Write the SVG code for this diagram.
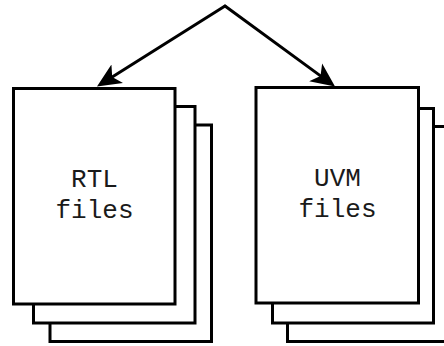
<svg xmlns="http://www.w3.org/2000/svg" width="444" height="346" viewBox="0 0 444 346">
<style>
.page{fill:#ffffff;stroke:#000000;stroke-width:3}
.lbl{font-family:"Courier New","Liberation Mono",monospace;font-size:26px;fill:#1a1a1a;text-anchor:middle}
.conn{fill:none;stroke:#000000;stroke-width:3;stroke-linecap:round}
</style>
<defs>
<marker id="arr" markerUnits="userSpaceOnUse" markerWidth="26" markerHeight="24" viewBox="0 0 26 24" refX="6" refY="12" orient="auto">
<path d="M24,12 L0,1 L6,12 L0,23 Z" fill="#000000"/>
</marker>
</defs>
<rect width="444" height="346" fill="#ffffff"/>
<g id="connectors">
<path class="conn" d="M225,6 L112.2,76.9" marker-end="url(#arr)"/>
<path class="conn" d="M225,6 L320.5,75.9" marker-end="url(#arr)"/>
</g>
<g id="rtl-files">
<rect class="page" x="50" y="125" width="161.5" height="216.5"/>
<rect class="page" x="33.5" y="106.5" width="161.5" height="216.5"/>
<rect class="page" x="13.5" y="88.5" width="161.5" height="215.5"/>
<text class="lbl" x="94.5" y="187">RTL</text>
<text class="lbl" x="94.5" y="218">files</text>
</g>
<g id="uvm-files">
<rect class="page" x="287.5" y="126.5" width="162" height="215"/>
<rect class="page" x="272.5" y="108.5" width="161" height="214.5"/>
<rect class="page" x="256" y="87.5" width="162.5" height="215.5"/>
<text class="lbl" x="337.5" y="186">UVM</text>
<text class="lbl" x="337.5" y="217">files</text>
</g>
</svg>
